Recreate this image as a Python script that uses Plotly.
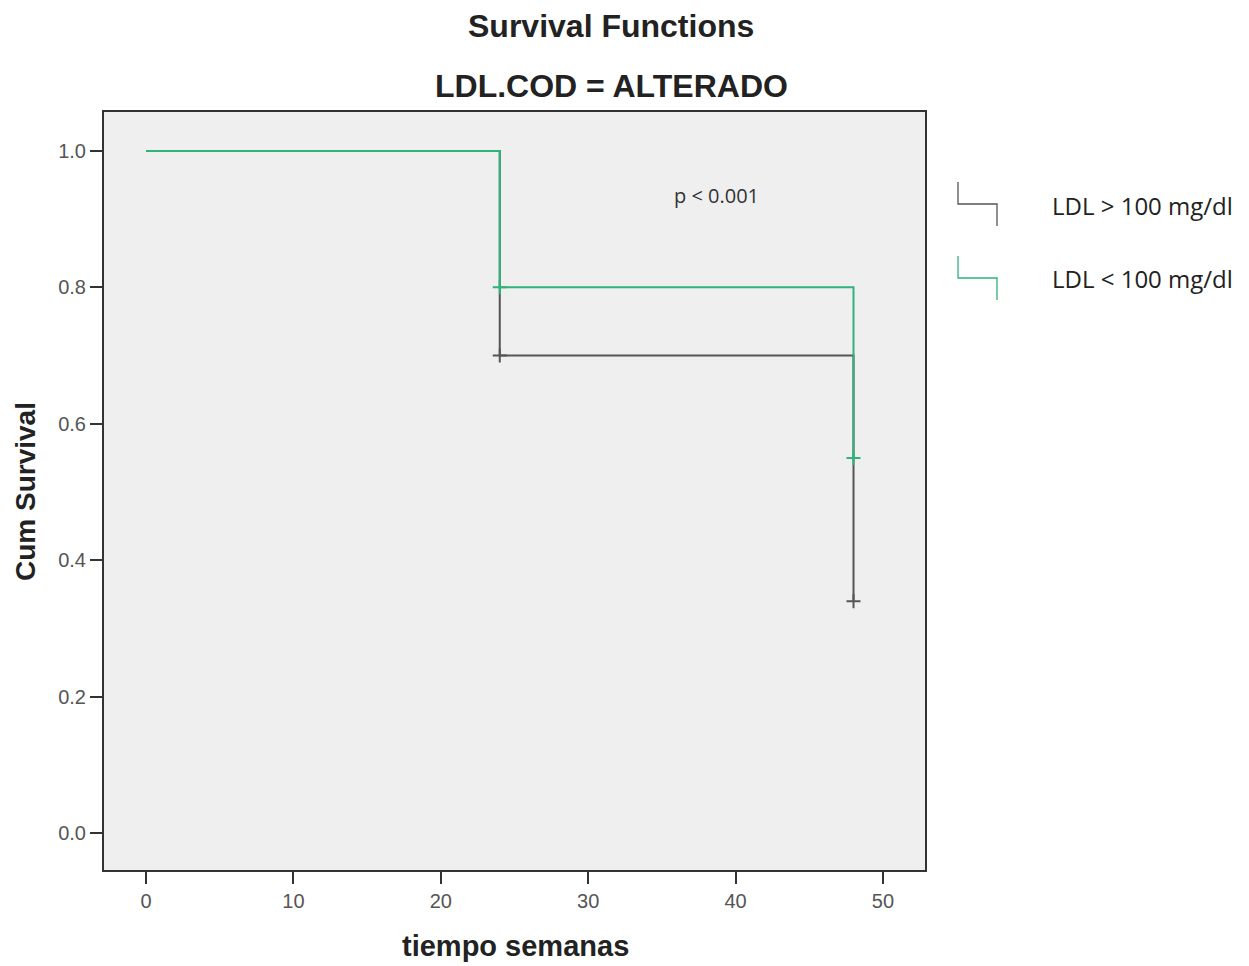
import plotly.graph_objects as go

# Kaplan-Meier step data (weeks, cumulative survival)
t_low = [0, 24, 24, 48, 48]
s_low = [1.0, 1.0, 0.8, 0.8, 0.55]
cens_low_t = [24, 48]
cens_low_s = [0.8, 0.55]

t_high = [0, 24, 24, 48, 48]
s_high = [1.0, 1.0, 0.7, 0.7, 0.34]
cens_high_t = [24, 48]
cens_high_s = [0.7, 0.34]

labels = ["LDL > 100 mg/dl", "LDL < 100 mg/dl"]
x_ticks = [0, 10, 20, 30, 40, 50]
y_ticks = [0.0, 0.2, 0.4, 0.6, 0.8, 1.0]

GREEN = "#2fb37a"
GRAY = "#555555"

fig = go.Figure()
fig.add_trace(go.Scatter(x=t_high, y=s_high, mode="lines",
                         line=dict(color=GRAY, width=2), showlegend=False))
fig.add_trace(go.Scatter(x=t_low, y=s_low, mode="lines",
                         line=dict(color=GREEN, width=2), showlegend=False))
fig.add_trace(go.Scatter(x=cens_high_t, y=cens_high_s, mode="markers",
                         marker=dict(symbol="cross-thin", size=10,
                                     line=dict(color=GRAY, width=2)),
                         showlegend=False))
fig.add_trace(go.Scatter(x=cens_low_t, y=cens_low_s, mode="markers",
                         marker=dict(symbol="cross-thin", size=10,
                                     line=dict(color=GREEN, width=2)),
                         showlegend=False))

# Page has an 8px body margin; work in screen pixels and convert
OFF = 8
W, H = 1241, 958
l, t = 104 - OFF, 112 - OFF
pw, ph = 821, 758
r, b = W - l - pw, H - t - ph

def px(xs):
    return (xs - OFF - l) / pw

def py(ys):
    return 1 - (ys - OFF - t) / ph

shapes = []
for (y0, col) in [(182, GRAY), (256, GREEN)]:
    path = (f"M {px(958)},{py(y0)} L {px(958)},{py(y0+22)} "
            f"L {px(997)},{py(y0+22)} L {px(997)},{py(y0+44)}")
    shapes.append(dict(type="path", xref="paper", yref="paper", path=path,
                       line=dict(color=col, width=1.3)))

leg_font = dict(family="Open Sans, Calibri, sans-serif", size=24, color="#222")
title_font = dict(family="Liberation Sans, Arial, sans-serif", size=32, color="#222")
axis_title_font = dict(family="Liberation Sans, Arial", size=29, color="#222")
annotations = [
    dict(x=px(1050), y=py(205), xref="paper", yref="paper", text=labels[0],
         showarrow=False, xanchor="left", yanchor="middle", font=leg_font),
    dict(x=px(1050), y=py(278), xref="paper", yref="paper", text=labels[1],
         showarrow=False, xanchor="left", yanchor="middle", font=leg_font),
    dict(x=38.7, y=0.934, xref="x", yref="y", text="p < 0.001",
         showarrow=False, xanchor="center", yanchor="middle",
         font=dict(family="Open Sans, Calibri, sans-serif", size=20, color="#333")),
    dict(x=px(611), y=py(26), xref="paper", yref="paper", text="<b>Survival Functions</b>",
         showarrow=False, xanchor="center", yanchor="middle", font=title_font),
    dict(x=px(611), y=py(86), xref="paper", yref="paper", text="<b>LDL.COD = ALTERADO</b>",
         showarrow=False, xanchor="center", yanchor="middle", font=title_font),
    dict(x=px(25), y=py(492), xref="paper", yref="paper", text="<b>Cum Survival</b>",
         showarrow=False, xanchor="center", yanchor="middle", textangle=-90,
         font=dict(family="Liberation Sans, Arial", size=28, color="#222")),
    dict(x=px(515), y=py(946), xref="paper", yref="paper", text="<b>tiempo semanas</b>",
         showarrow=False, xanchor="center", yanchor="middle", font=axis_title_font),
]

fig.update_layout(
    width=W, height=H,
    margin=dict(l=l, r=r, t=t, b=b, pad=0),
    paper_bgcolor="white",
    plot_bgcolor="#efefef",
    shapes=shapes,
    annotations=annotations,
    showlegend=False,
    xaxis=dict(range=[-2.85, 52.85], tickvals=x_ticks, showgrid=False, zeroline=False,
               showline=True, linecolor="#333", linewidth=2, mirror=True,
               ticks="outside", ticklen=12, tickcolor="#333", tickwidth=2,
               tickfont=dict(family="Liberation Sans, Arial", size=20, color="#555")),
    yaxis=dict(range=[-0.054, 1.057], tickvals=y_ticks, tickformat=".1f",
               showgrid=False, zeroline=False,
               showline=True, linecolor="#333", linewidth=2, mirror=True,
               ticks="outside", ticklen=12, tickcolor="#333", tickwidth=2,
               tickfont=dict(family="Liberation Sans, Arial", size=20, color="#555")),
)

fig.write_html("out.html")
